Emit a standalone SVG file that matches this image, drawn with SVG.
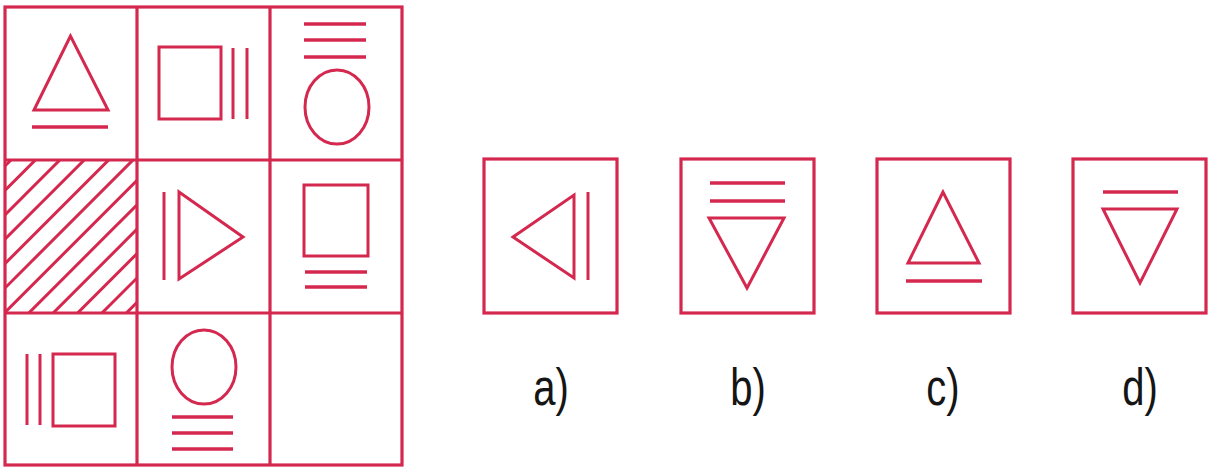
<svg xmlns="http://www.w3.org/2000/svg" width="1208" height="469" viewBox="0 0 1208 469">
<style>
.g{fill:none;stroke:#d4284f;stroke-width:3.2}
.s{fill:none;stroke:#d4284f;stroke-width:3;stroke-linejoin:miter}
.b{fill:none;stroke:#d4284f;stroke-width:3.6}
.h{stroke:#d4284f;stroke-width:3}
.lbl{font-family:"Liberation Sans",Arial,sans-serif;font-size:50px;fill:#151515;text-anchor:middle}
</style>
<defs>
<clipPath id="hc"><rect x="5" y="160" width="132" height="153"/></clipPath>
</defs>
<rect width="1208" height="469" fill="#fff"/>
<g id="grid">
<rect class="g" x="5" y="7" width="397" height="458"/>
<line class="g" x1="137" y1="7" x2="137" y2="465"/>
<line class="g" x1="270" y1="7" x2="270" y2="465"/>
<line class="g" x1="5" y1="160" x2="402" y2="160"/>
<line class="g" x1="5" y1="313" x2="402" y2="313"/>
</g>
<g id="cell-1-1">
<polygon class="s" points="70.5,36 34,110 108,110"/>
<line class="b" x1="32" y1="127" x2="108" y2="127"/>
</g>
<g id="cell-1-2">
<rect class="s" x="159" y="47" width="62" height="72"/>
<line class="s" x1="233" y1="48" x2="233" y2="119"/>
<line class="s" x1="247" y1="48" x2="247" y2="119"/>
</g>
<g id="cell-1-3">
<line class="b" x1="304" y1="24" x2="366" y2="24"/>
<line class="b" x1="304" y1="40" x2="366" y2="40"/>
<line class="b" x1="304" y1="57" x2="366" y2="57"/>
<ellipse class="s" cx="337" cy="107" rx="32" ry="37"/>
</g>
<g id="cell-2-1" clip-path="url(#hc)">
<line class="h" x1="0" y1="171" x2="171" y2="0"/>
<line class="h" x1="0" y1="195.4" x2="195.4" y2="0"/>
<line class="h" x1="0" y1="219.8" x2="219.8" y2="0"/>
<line class="h" x1="0" y1="244.2" x2="244.2" y2="0"/>
<line class="h" x1="0" y1="268.6" x2="268.6" y2="0"/>
<line class="h" x1="0" y1="293" x2="293" y2="0"/>
<line class="h" x1="0" y1="317.4" x2="317.4" y2="0"/>
<line class="h" x1="0" y1="341.8" x2="341.8" y2="0"/>
<line class="h" x1="0" y1="366.2" x2="366.2" y2="0"/>
<line class="h" x1="0" y1="390.6" x2="390.6" y2="0"/>
<line class="h" x1="0" y1="415" x2="415" y2="0"/>
<line class="h" x1="0" y1="439.4" x2="439.4" y2="0"/>
<line class="h" x1="0" y1="463.8" x2="463.8" y2="0"/>
</g>
<g id="cell-2-2">
<line class="s" x1="164" y1="192" x2="164" y2="280"/>
<polygon class="s" points="179,192 243,237 179,279"/>
</g>
<g id="cell-2-3">
<rect class="s" x="304" y="185" width="64" height="71"/>
<line class="b" x1="305" y1="272" x2="367" y2="272"/>
<line class="b" x1="305" y1="287" x2="367" y2="287"/>
</g>
<g id="cell-3-1">
<line class="s" x1="27" y1="354" x2="27" y2="425"/>
<line class="s" x1="40" y1="354" x2="40" y2="425"/>
<rect class="s" x="53" y="354" width="62" height="72"/>
</g>
<g id="cell-3-2">
<ellipse class="s" cx="204" cy="367" rx="32" ry="37"/>
<line class="b" x1="172" y1="417" x2="233" y2="417"/>
<line class="b" x1="172" y1="433" x2="233" y2="433"/>
<line class="b" x1="172" y1="449" x2="233" y2="449"/>
</g>
<g id="option-a">
<rect class="g" x="484" y="159" width="133" height="154"/>
<polygon class="s" points="513,237 574,195 574,278"/>
<line class="s" x1="588" y1="192" x2="588" y2="280"/>
<text class="lbl" transform="translate(551,405) scale(0.8,1.05)">a)</text>
</g>
<g id="option-b">
<rect class="g" x="681" y="159" width="133" height="154"/>
<line class="b" x1="710" y1="183" x2="785" y2="183"/>
<line class="b" x1="710" y1="201" x2="785" y2="201"/>
<polygon class="s" points="709,218 784,218 747,288"/>
<text class="lbl" transform="translate(748,405) scale(0.8,1.05)">b)</text>
</g>
<g id="option-c">
<rect class="g" x="877" y="159" width="133" height="154"/>
<polygon class="s" points="943,192 908,263 979,263"/>
<line class="b" x1="906" y1="281" x2="982" y2="281"/>
<text class="lbl" transform="translate(943,405) scale(0.8,1.05)">c)</text>
</g>
<g id="option-d">
<rect class="g" x="1073" y="159" width="133" height="154"/>
<line class="b" x1="1103" y1="192" x2="1178" y2="192"/>
<polygon class="s" points="1103,209 1177,209 1140,283"/>
<text class="lbl" transform="translate(1140,405) scale(0.8,1.05)">d)</text>
</g>
</svg>
